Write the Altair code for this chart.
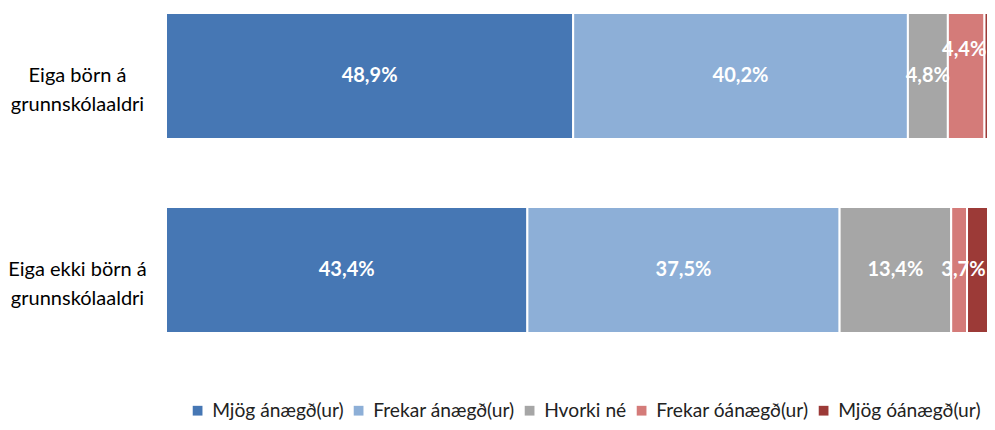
import altair as alt
import pandas as pd

categories = ["Eiga börn á\ngrunnskólaaldri", "Eiga ekki börn á\ngrunnskólaaldri"]
series = ["Mjög ánægð(ur)", "Frekar ánægð(ur)", "Hvorki né", "Frekar óánægð(ur)", "Mjög óánægð(ur)"]
colors = ["#4677B4", "#8DAFD7", "#A6A6A6", "#D47B79", "#9C3A37"]
values_children = [48.9, 40.2, 4.8, 4.4, 1.7]
values_no_children = [43.4, 37.5, 13.4, 1.9, 3.7]

rows = []
for cat, vals in zip(categories, [values_children, values_no_children]):
    for i, (s, v) in enumerate(zip(series, vals)):
        rows.append(dict(cat=cat, series=s, order=i, value=v,
                         label=f"{v:.1f}%".replace(".", ",")))
df = pd.DataFrame(rows)

FONT = "Lato"

base = alt.Chart(df).transform_stack(
    stack="value", groupby=["cat"], sort=[alt.SortField("order", order="ascending")],
    as_=["x0", "x1"]
).transform_calculate(mid="(datum.x0 + datum.x1) / 2")

yenc = alt.Y("cat:N", sort=categories, title=None,
             scale=alt.Scale(paddingInner=0.35, paddingOuter=0.026),
             axis=alt.Axis(domain=False, ticks=False, grid=False, labelAlign="center",
                           labelPadding=89, labelFontSize=20, labelFont=FONT,
                           labelColor="#000000", labelLineHeight=29,
                           labelLimit=300,
                           labelExpr="split(datum.label, '\\n')"))
# the reference's plot area runs past the right edge of the picture
xscale = alt.Scale(domain=[0, 98.6], nice=False, zero=True)

bars = base.mark_bar(stroke="white", strokeWidth=2, clip=True).encode(
    y=yenc,
    x=alt.X("x0:Q", scale=xscale, axis=None),
    x2="x1:Q",
    color=alt.Color("series:N", sort=series,
                    scale=alt.Scale(domain=series, range=colors),
                    legend=alt.Legend(title=None, orient="none", legendX=22, legendY=393,
                                      direction="horizontal", symbolType="square",
                                      symbolSize=95, symbolStrokeWidth=0,
                                      labelFontSize=19.2, labelFont=FONT,
                                      labelColor="#222222", columnPadding=5,
                                      labelOffset=5, labelLimit=400)),
    order=alt.Order("order:Q"),
)

c0, c1 = categories
raise_cond = f"datum.cat == '{c0.replace(chr(10), '\\n')}' && datum.series == '{series[3]}'"
shift_cond = f"datum.cat == '{c1.replace(chr(10), '\\n')}' && datum.series == '{series[4]}'"

txt = dict(color="white", fontWeight="bold", fontSize=20, font=FONT,
           align="center", baseline="middle")

labels_main = base.transform_filter(
    f"datum.value >= 3 && !({raise_cond}) && !({shift_cond})"
).mark_text(**txt).encode(y=alt.Y("cat:N", sort=categories), x=alt.X("mid:Q", scale=xscale), text="label:N")

labels_raise = base.transform_filter(raise_cond).mark_text(dy=-26, dx=-2, **txt).encode(
    y=alt.Y("cat:N", sort=categories), x=alt.X("mid:Q", scale=xscale), text="label:N")

labels_shift = base.transform_filter(shift_cond).mark_text(dx=-19, **txt).encode(
    y=alt.Y("cat:N", sort=categories), x=alt.X("mid:Q", scale=xscale), text="label:N")

chart = alt.layer(bars, labels_main, labels_raise, labels_shift).properties(
    width=821, height=330,
    padding={"left": 158, "top": 0, "right": 0, "bottom": 84},
    autosize=alt.AutoSizeParams(type="none"),
    background="white",
).configure_view(stroke=None)

chart.save("out.html", embed_options={"renderer": "svg", "actions": False})
